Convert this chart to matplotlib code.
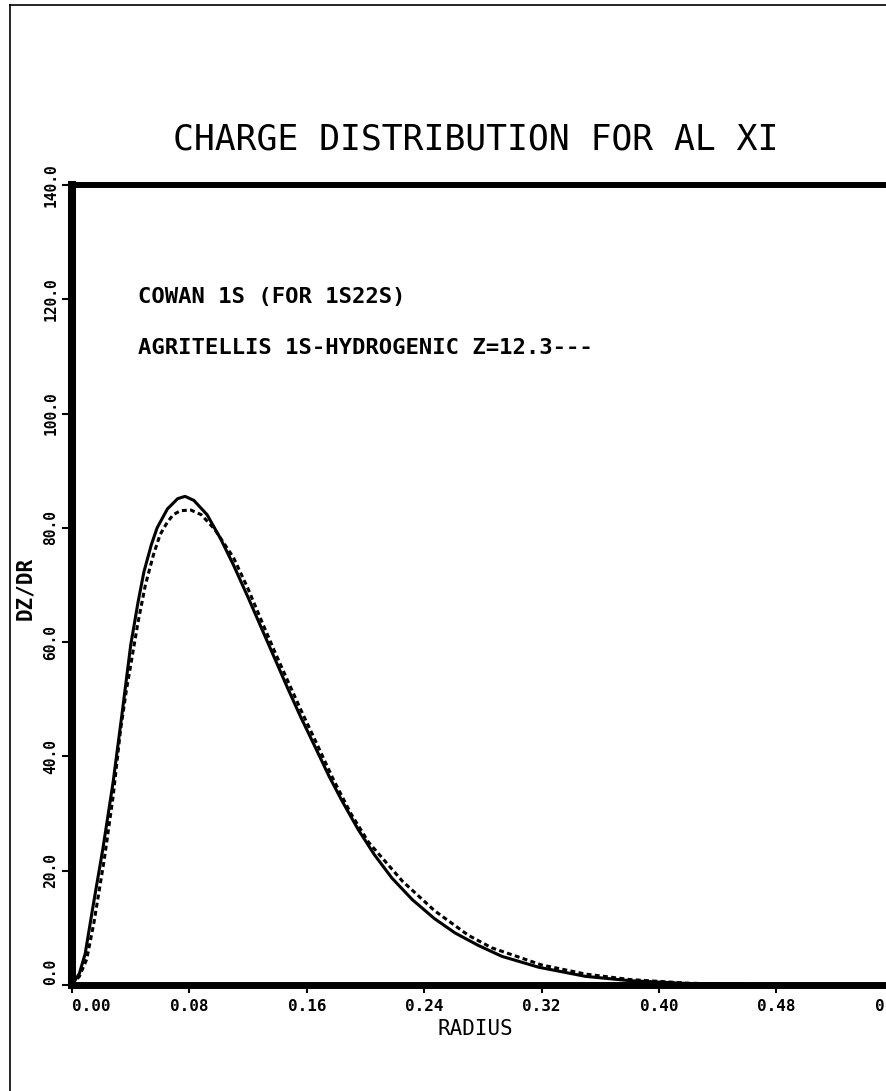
#!/usr/bin/env python3
""" charge distribution for Al XI, old plotter style """
import matplotlib.pyplot as plt
from matplotlib.lines import Line2D

# Cowan 1s (for 1s2 2s) - solid curve
radius_cowan = [0.000, 0.005, 0.009, 0.014, 0.021, 0.028, 0.034, 0.040, 0.045,
                0.049, 0.054, 0.058, 0.065, 0.072, 0.077, 0.083, 0.092, 0.101,
                0.110, 0.120, 0.129, 0.138, 0.147, 0.156, 0.165, 0.175, 0.184,
                0.195, 0.206, 0.218, 0.232, 0.247, 0.261, 0.277, 0.293, 0.318,
                0.350, 0.380, 0.420, 0.460, 0.500, 0.560]
dzdr_cowan = [0.0, 2.0, 5.5, 13.3, 23.8, 35.5, 47.3, 59.5, 67.0,
              72.3, 77.0, 80.0, 83.3, 85.1, 85.5, 84.8, 82.3, 78.2,
              73.5, 67.8, 62.5, 57.2, 51.9, 46.8, 42.0, 36.6, 32.2,
              27.2, 22.8, 18.7, 14.9, 11.6, 9.1, 6.9, 5.0, 3.1,
              1.5, 0.75, 0.25, 0.08, 0.02, 0.0]

# Agritellis 1s hydrogenic Z=12.3 - dashed curve
radius_agr = [0.000, 0.005, 0.010, 0.015, 0.022, 0.028, 0.033, 0.037, 0.041,
              0.045, 0.050, 0.0555, 0.060, 0.065, 0.069, 0.074, 0.081, 0.088,
              0.097, 0.110, 0.120, 0.129, 0.138, 0.147, 0.156, 0.165, 0.178,
              0.190, 0.202, 0.225, 0.247, 0.270, 0.286, 0.320, 0.350, 0.380,
              0.420, 0.460, 0.500, 0.560]
dzdr_agr = [0.0, 1.5, 4.5, 11.0, 22.0, 33.0, 44.5, 51.5, 57.5,
            63.5, 70.0, 75.3, 78.8, 81.0, 82.3, 83.0, 83.1, 82.3,
            79.8, 74.8, 69.3, 63.8, 58.4, 53.2, 48.1, 43.2, 36.0,
            30.0, 25.0, 18.2, 13.0, 8.7, 6.5, 3.5, 1.9, 0.95,
            0.3, 0.1, 0.02, 0.0]

x_ticks = [0.00, 0.08, 0.16, 0.24, 0.32, 0.40, 0.48, 0.56]
x_tick_labels = ["0.00", "0.08", "0.16", "0.24", "0.32", "0.40", "0.48", "0.56"]
y_ticks = [0, 20, 40, 60, 80, 100, 120, 140]
y_tick_labels = ["0.0", "20.0", "40.0", "60.0", "80.0", "100.0", "120.0", "140.0"]

mono = 'DejaVu Sans Mono'

fig = plt.figure(figsize=(8.87, 10.91), dpi=100)
ax = fig.add_axes([0.0812, 0.0972, 0.9265, 0.7333])

ax.plot(radius_cowan, dzdr_cowan, color='black', lw=2.2)
ax.plot(radius_agr, dzdr_agr, color='black', lw=2.2, linestyle=(0, (1.6, 1.1)))

ax.set_xlim(0, 0.56)
ax.set_ylim(0, 140)

ax.spines['left'].set_linewidth(5.8)
ax.spines['bottom'].set_linewidth(5.0)
ax.spines['top'].set_linewidth(4.3)
ax.spines['right'].set_visible(False)

ax.set_xticks(x_ticks)
ax.set_xticklabels(x_tick_labels, family=mono, fontweight='bold', fontsize=11.5)
ax.set_yticks(y_ticks)
ax.set_yticklabels(y_tick_labels, family=mono, fontweight='bold', fontsize=10.5,
                   rotation=90, va='center')
ax.tick_params(axis='x', direction='out', length=6, width=1.5, pad=4)
ax.tick_params(axis='y', direction='out', length=7, width=1.5, pad=3)
ax.get_xticklabels()[0].set_ha('left')
ax.get_yticklabels()[0].set_va('bottom')

fig.text(0.536, 1 - 140 / 1091, "CHARGE DISTRIBUTION FOR AL XI",
         family=mono, fontsize=25, ha='center', va='center')
fig.text(138 / 887, 1 - 297 / 1091, "COWAN 1S (FOR 1S22S)",
         family=mono, fontsize=16, fontweight='bold', va='center')
fig.text(138 / 887, 1 - 348 / 1091, "AGRITELLIS 1S-HYDROGENIC Z=12.3---",
         family=mono, fontsize=16, fontweight='bold', va='center')
fig.text(475 / 887, 1 - 1029 / 1091, "RADIUS",
         family=mono, fontsize=15, ha='center', va='center')
fig.text(25 / 887, 1 - 588 / 1091, "DZ/DR", family=mono, fontsize=15,
         fontweight='bold', rotation=90, ha='center', va='center')

# thin frame of the scanned page
fig.add_artist(Line2D([10 / 887, 10 / 887], [0, 1 - 5 / 1091],
                      transform=fig.transFigure, color='black', lw=1.2))
fig.add_artist(Line2D([10 / 887, 1], [1 - 5 / 1091, 1 - 5 / 1091],
                      transform=fig.transFigure, color='black', lw=1.2))

fig.savefig('out.png', dpi=100)
